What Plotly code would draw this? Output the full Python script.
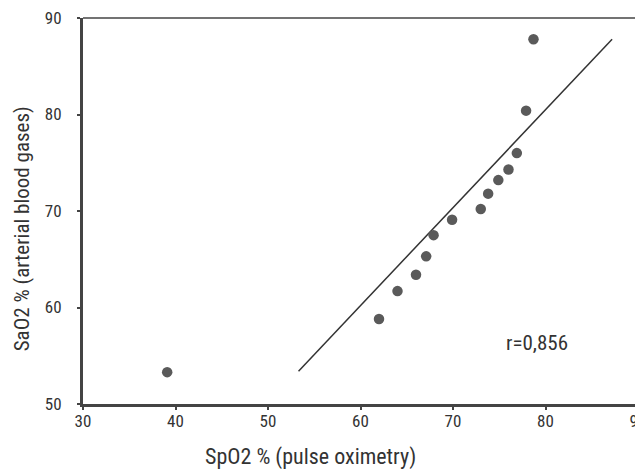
import plotly.graph_objects as go

spo2 = [39.1, 62.0, 64.0, 66.0, 67.1, 67.9, 69.9, 73.0, 73.8, 74.9, 76.0, 76.9, 77.9, 78.7]
sao2 = [53.3, 58.8, 61.7, 63.4, 65.3, 67.5, 69.1, 70.2, 71.8, 73.2, 74.3, 76.0, 80.4, 87.8]
fit_x = [53.3, 87.2]
fit_y = [53.4, 87.8]
r_label = "r=0,856"
x_title = "SpO2 % (pulse oximetry)"
y_title = "SaO2 % (arterial blood gases)"
x_ticks = [30, 40, 50, 60, 70, 80, 90]
y_ticks = [50, 60, 70, 80, 90]

FONT = "Roboto Condensed, DejaVu Sans Condensed, Liberation Sans Narrow, sans-serif"

fig = go.Figure()
fig.add_trace(go.Scatter(x=fit_x, y=fit_y, mode="lines",
                         line=dict(color="#333333", width=1.5), showlegend=False))
fig.add_trace(go.Scatter(x=spo2, y=sao2, mode="markers",
                         marker=dict(color="#5a5a5a", size=10.5), showlegend=False))
fig.add_annotation(x=79.1, y=56.3, text=r_label, showarrow=False,
                   font=dict(family=FONT, size=21, color="#333333"))

# axis titles
fig.add_annotation(xref="paper", yref="paper", x=0.41, y=-0.137, text=x_title,
                   showarrow=False, xanchor="center", yanchor="middle",
                   font=dict(family=FONT, size=22, color="#333333"))
fig.add_annotation(xref="paper", yref="paper", x=-0.11, y=0.455, text=y_title,
                   showarrow=False, xanchor="center", yanchor="middle", textangle=-90,
                   font=dict(family=FONT, size=21, color="#333333"))

# top/right thinner frame
fig.add_shape(type="line", xref="paper", yref="paper", x0=0, x1=1, y0=1, y1=1,
              line=dict(color="#444444", width=1.5))
fig.add_shape(type="line", xref="paper", yref="paper", x0=1, x1=1, y0=0, y1=1,
              line=dict(color="#444444", width=1.5))

fig.update_layout(
    width=635, height=461,
    margin=dict(l=75, r=5, t=10, b=65),
    paper_bgcolor="white", plot_bgcolor="white",
    font=dict(family=FONT, color="#333333"),
    xaxis=dict(range=[30, 90], tickvals=x_ticks, showgrid=False, zeroline=False,
               showline=True, linecolor="#444444", linewidth=3, automargin=False,
               ticks="outside", ticklen=3, tickwidth=2, tickcolor="#444444",
               ticklabelstandoff=-3, ticklabeloverflow="allow",
               tickfont=dict(size=17, family=FONT, color="#333333")),
    yaxis=dict(range=[50, 90], tickvals=y_ticks, showgrid=False, zeroline=False,
               showline=True, linecolor="#444444", linewidth=3, automargin=False,
               ticks="outside", ticklen=3, tickwidth=2, tickcolor="#444444",
               ticklabelstandoff=12, ticklabeloverflow="allow",
               tickfont=dict(size=17, family=FONT, color="#333333")),
)

fig.write_html("out.html")
